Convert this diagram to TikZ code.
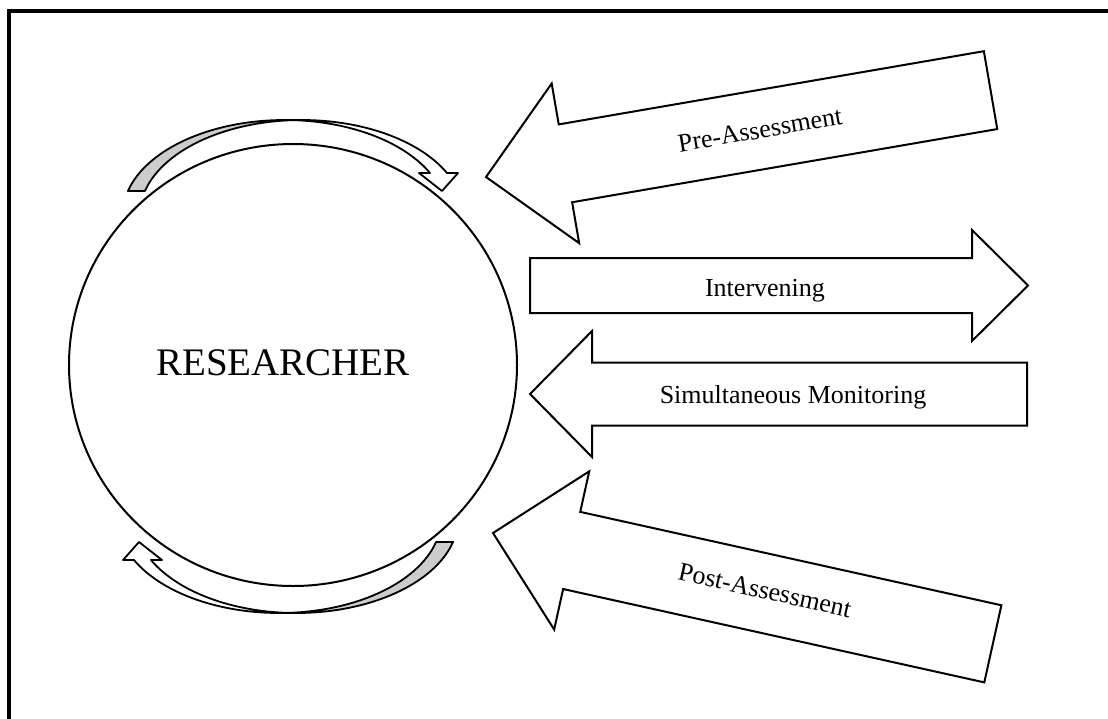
\documentclass[tikz,border=0pt]{standalone}
\usepackage{fontspec}
\setmainfont{Liberation Serif}
\usetikzlibrary{shapes.geometric}

% curled ribbon arrow: two equal ellipses shifted sideways,
% the back face (grey) on the left, the front face and head on the right
\newcommand{\ribbonarrow}{%
  \fill[ribbonback]
    plot[domain=194.63:273.0, samples=50] ({284.7+162*cos(\x)},{215+95*sin(\x)})
    -- plot[domain=267.0:194.63, samples=50] ({301.7+162*cos(\x)},{215+95*sin(\x)})
    -- cycle;
  \draw[ribbonline]
    plot[domain=194.63:273.0, samples=50] ({284.7+162*cos(\x)},{215+95*sin(\x)})
    -- plot[domain=267.0:194.63, samples=50] ({301.7+162*cos(\x)},{215+95*sin(\x)})
    -- cycle;
  \draw[ribbonline, fill=white]
    plot[domain=267.0:333.78, samples=50] ({301.7+162*cos(\x)},{215+95*sin(\x)})
    -- (458,173) -- (442,191) -- (419,173)
    -- plot[domain=333.78:273.0, samples=50] ({284.7+162*cos(\x)},{215+95*sin(\x)})
    -- cycle;
}

\begin{document}
\begin{tikzpicture}[x=1pt, y=-1pt,
  outline/.style={draw=black, line width=2pt, line join=miter, fill=white},
  ribbonline/.style={draw=black, line width=1.8pt, line join=round},
  ribbonback/.style={fill=black!20},
  tag/.style={font=\fontsize{26}{30}\selectfont, inner sep=0pt},
  frameline/.style={line width=4.5pt, line cap=rect}]

\useasboundingbox (0,0) rectangle (1108,718);
\clip (0,0) rectangle (1108,718);
\fill[white] (0,0) rectangle (1108,718);

% page frame running off the right and bottom edges
\draw[frameline] (9,760) -- (9,11) -- (1150,11);

% the researcher
\node[ellipse, draw=black, line width=2pt, minimum width=448pt, minimum height=442pt,
      inner sep=0pt] (researcher) at (293,365) {};
\node[font=\fontsize{39}{46}\selectfont, inner sep=0pt] (researchertext) at (283,363) {RESEARCHER};

% curled arrows above and below the circle
\ribbonarrow
\begin{scope}[rotate around={180:(290.5,366.5)}]
  \ribbonarrow
\end{scope}

% Pre-Assessment (pointing in, tilted up)
\begin{scope}[shift={(486,177)}, rotate=9.77]
  \draw[outline] (0,0) -- (80.6,-81) -- (80.6,-39.5) -- (512,-39.5)
    -- (512,39.5) -- (80.6,39.5) -- (80.6,81) -- cycle;
  \node[tag, rotate=9.77] (pre) at (278,0) {Pre-Assessment};
\end{scope}

% Intervening (pointing out)
\draw[outline] (530,258) -- (972,258) -- (972,230) -- (1028,285.5)
  -- (972,341) -- (972,313) -- (530,313) -- cycle;
\node[tag, anchor=base] (intervening) at (765,296) {Intervening};

% Simultaneous Monitoring (pointing in)
\draw[outline] (530,394) -- (592,331) -- (592,362.5) -- (1027,362.5)
  -- (1027,425.5) -- (592,425.5) -- (592,457) -- cycle;
\node[tag, anchor=base] (monitoring) at (793,403) {Simultaneous Monitoring};

% Post-Assessment (pointing in, tilted down)
\begin{scope}[shift={(493,533)}, rotate=-12.5]
  \draw[outline] (0,0) -- (80.6,-81) -- (80.6,-39.5) -- (512,-39.5)
    -- (512,39.5) -- (80.6,39.5) -- (80.6,81) -- cycle;
  \node[tag, rotate=-12.5] (post) at (278,-3) {Post-Assessment};
\end{scope}

\end{tikzpicture}
\end{document}
